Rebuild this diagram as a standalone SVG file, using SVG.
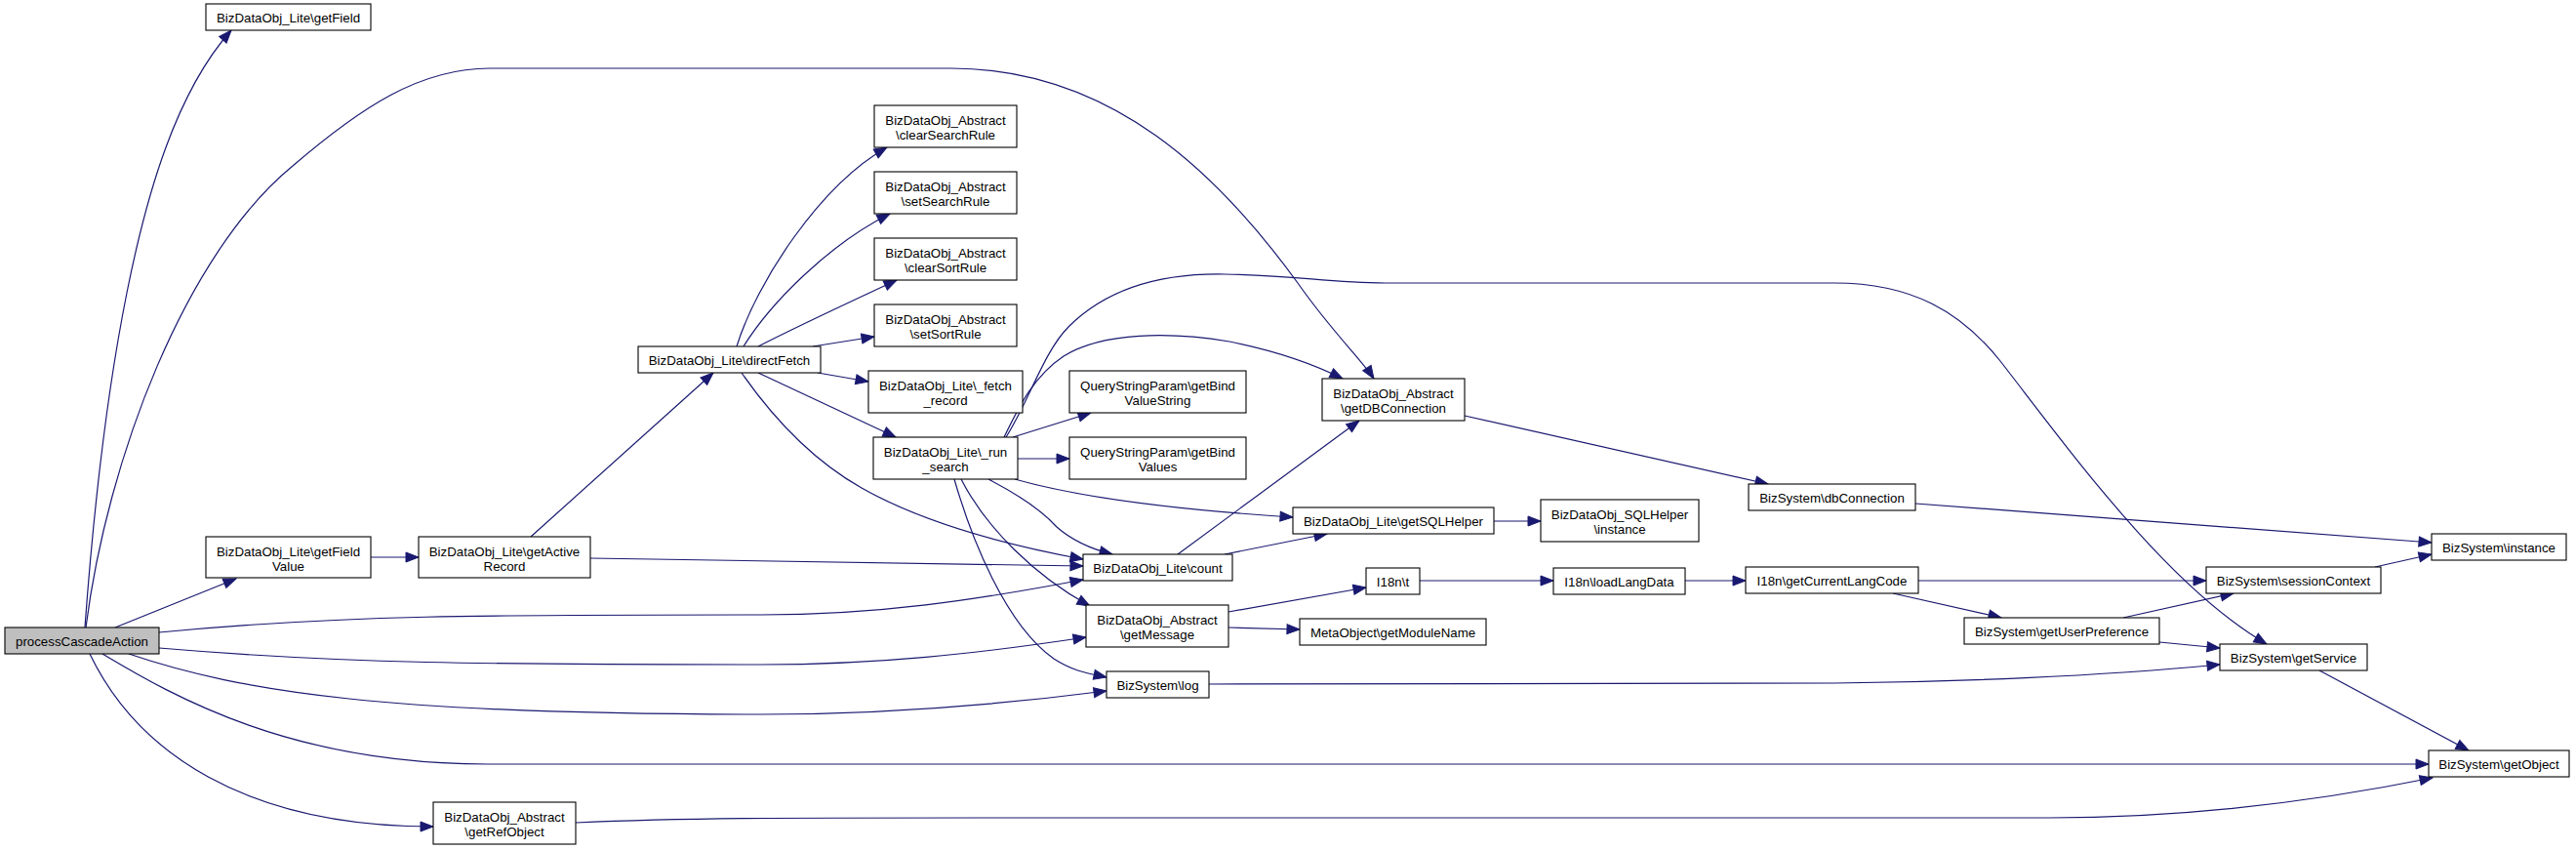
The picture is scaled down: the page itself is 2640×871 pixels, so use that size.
<svg xmlns="http://www.w3.org/2000/svg" width="2640" height="871" viewBox="0 0 2640 871">
<style>
.n rect{fill:#ffffff;stroke:#000000;stroke-width:1.1}
.n text{font-family:"Liberation Sans",Arial,Helvetica,sans-serif;font-size:13.3px;text-anchor:middle;fill:#000000}
#edges path{fill:none;stroke:#191970;stroke-width:1.2;marker-end:url(#arr)}
</style>
<defs>
<marker id="arr" markerUnits="userSpaceOnUse" markerWidth="15" markerHeight="12" refX="13" refY="5" orient="auto" overflow="visible">
<path d="M0,0 L13,5 L0,10 z" fill="#191970" stroke="#191970" stroke-width="1"/>
</marker>
</defs>
<rect x="0" y="0" width="2640" height="871" fill="#ffffff"/>
<g id="edges">
<path d="M87,643 C96,520 110,400 130,300 C150,200 180,95 237,31"/>
<path d="M88,643 C110,470 190,260 300,170 C370,110 430,70 502,70 L975,70 C1140,70 1250,180 1330,290 C1365,340 1395,368 1408,388"/>
<path d="M118,643 L242,593"/>
<path d="M163,648 C350,630 500,630 780,630 C900,630 1000,615 1110,594"/>
<path d="M163,664 C350,680 500,681 780,681 C900,681 1000,670 1113,653"/>
<path d="M132,670 C250,710 400,732 780,732 C900,732 1010,724 1134,708"/>
<path d="M105,670 C180,715 300,783 500,783 L2489,783"/>
<path d="M92,670 C140,770 250,847 444,847"/>
<path d="M380,571 L429,571"/>
<path d="M544,550 L731,382"/>
<path d="M605,572 L1110,580"/>
<path d="M755,355 C775,290 840,190 909,151"/>
<path d="M762,355 C790,310 850,250 912,219"/>
<path d="M777,355 C820,333 870,310 919,287"/>
<path d="M833,355 L896,345"/>
<path d="M838,382 L890,391"/>
<path d="M777,382 L918,448"/>
<path d="M760,382 C790,425 830,470 883,500 C950,538 1040,560 1110,573"/>
<path d="M1038,448 L1118,423"/>
<path d="M1043,470 L1096,470"/>
<path d="M1029,448 C1045,415 1060,385 1090,365 C1130,340 1200,340 1260,350 C1310,360 1350,375 1376,388"/>
<path d="M1031,448 C1055,410 1070,360 1095,335 C1140,290 1200,280 1255,281 C1330,282 1360,290 1420,290 L1880,290 C1960,290 2010,320 2050,370 C2120,460 2220,600 2323,660"/>
<path d="M1040,491 C1100,508 1200,522 1325,530"/>
<path d="M1013,491 C1040,505 1065,520 1083,540 C1100,555 1120,563 1140,568"/>
<path d="M985,491 C1010,540 1060,590 1117,621"/>
<path d="M978,491 C995,550 1030,640 1080,675 C1100,688 1115,690 1134,694"/>
<path d="M1207,568 L1393,431"/>
<path d="M1255,568 L1360,547"/>
<path d="M1531,534 L1579,534"/>
<path d="M1259,627 L1400,602"/>
<path d="M1259,643 L1332,645"/>
<path d="M1455,595 L1592,595"/>
<path d="M1727,595 L1789,595"/>
<path d="M1966,595 L2261,595"/>
<path d="M1940,608 L2051,633"/>
<path d="M2176,633 L2289,608"/>
<path d="M2213,658 L2275,664"/>
<path d="M2434,581 L2492,568"/>
<path d="M1963,516 L2492,556"/>
<path d="M1501,426 L1812,496"/>
<path d="M2377,687 L2530,769"/>
<path d="M1239,701 L1880,700 C2000,699 2150,693 2275,681"/>
<path d="M590,843 C700,838 800,838 1000,838 L2100,838 C2250,838 2380,820 2493,797"/>
</g>
<g id="processCascadeAction" class="n"><rect x="5" y="643" width="158" height="27" style="fill:#bfbfbf"/><text x="84" y="661.5">processCascadeAction</text></g>
<g id="getField" class="n"><rect x="211" y="4" width="169" height="27"/><text x="295.5" y="22.5">BizDataObj_Lite\getField</text></g>
<g id="getFieldValue" class="n"><rect x="211" y="550" width="169" height="42"/><text x="295.5" y="569.5">BizDataObj_Lite\getField</text><text x="295.5" y="585">Value</text></g>
<g id="getActiveRecord" class="n"><rect x="429" y="550" width="176" height="42"/><text x="517" y="569.5">BizDataObj_Lite\getActive</text><text x="517" y="585">Record</text></g>
<g id="directFetch" class="n"><rect x="654" y="355" width="187" height="27"/><text x="747.5" y="373.5">BizDataObj_Lite\directFetch</text></g>
<g id="clearSearchRule" class="n"><rect x="896" y="108" width="146" height="43"/><text x="969" y="127.5">BizDataObj_Abstract</text><text x="969" y="143">\clearSearchRule</text></g>
<g id="setSearchRule" class="n"><rect x="896" y="176" width="146" height="43"/><text x="969" y="195.5">BizDataObj_Abstract</text><text x="969" y="211">\setSearchRule</text></g>
<g id="clearSortRule" class="n"><rect x="896" y="244" width="146" height="43"/><text x="969" y="263.5">BizDataObj_Abstract</text><text x="969" y="279">\clearSortRule</text></g>
<g id="setSortRule" class="n"><rect x="896" y="312" width="146" height="43"/><text x="969" y="331.5">BizDataObj_Abstract</text><text x="969" y="347">\setSortRule</text></g>
<g id="fetchRecord" class="n"><rect x="890" y="380" width="158" height="43"/><text x="969" y="399.5">BizDataObj_Lite\_fetch</text><text x="969" y="415">_record</text></g>
<g id="runSearch" class="n"><rect x="895" y="448" width="148" height="43"/><text x="969" y="467.5">BizDataObj_Lite\_run</text><text x="969" y="483">_search</text></g>
<g id="getBindValueString" class="n"><rect x="1096" y="380" width="181" height="43"/><text x="1186.5" y="399.5">QueryStringParam\getBind</text><text x="1186.5" y="415">ValueString</text></g>
<g id="getBindValues" class="n"><rect x="1096" y="448" width="181" height="43"/><text x="1186.5" y="467.5">QueryStringParam\getBind</text><text x="1186.5" y="483">Values</text></g>
<g id="getDBConnection" class="n"><rect x="1355" y="388" width="146" height="43"/><text x="1428" y="407.5">BizDataObj_Abstract</text><text x="1428" y="423">\getDBConnection</text></g>
<g id="getSQLHelper" class="n"><rect x="1325" y="520" width="206" height="27"/><text x="1428" y="538.5">BizDataObj_Lite\getSQLHelper</text></g>
<g id="sqlHelperInstance" class="n"><rect x="1579" y="512" width="162" height="43"/><text x="1660" y="531.5">BizDataObj_SQLHelper</text><text x="1660" y="547">\instance</text></g>
<g id="count" class="n"><rect x="1110" y="568" width="153" height="27"/><text x="1186.5" y="586.5">BizDataObj_Lite\count</text></g>
<g id="getMessage" class="n"><rect x="1113" y="620" width="146" height="43"/><text x="1186" y="639.5">BizDataObj_Abstract</text><text x="1186" y="655">\getMessage</text></g>
<g id="getModuleName" class="n"><rect x="1332" y="634" width="191" height="27"/><text x="1427.5" y="652.5">MetaObject\getModuleName</text></g>
<g id="log" class="n"><rect x="1134" y="688" width="105" height="27"/><text x="1186.5" y="706.5">BizSystem\log</text></g>
<g id="i18nT" class="n"><rect x="1400" y="582" width="55" height="27"/><text x="1427.5" y="600.5">I18n\t</text></g>
<g id="loadLangData" class="n"><rect x="1592" y="582" width="135" height="27"/><text x="1659.5" y="600.5">I18n\loadLangData</text></g>
<g id="getCurrentLangCode" class="n"><rect x="1789" y="581" width="177" height="27"/><text x="1877.5" y="599.5">I18n\getCurrentLangCode</text></g>
<g id="dbConnection" class="n"><rect x="1792" y="496" width="171" height="27"/><text x="1877.5" y="514.5">BizSystem\dbConnection</text></g>
<g id="sessionContext" class="n"><rect x="2261" y="581" width="179" height="27"/><text x="2350.5" y="599.5">BizSystem\sessionContext</text></g>
<g id="getUserPreference" class="n"><rect x="2013" y="633" width="200" height="27"/><text x="2113" y="651.5">BizSystem\getUserPreference</text></g>
<g id="getService" class="n"><rect x="2275" y="660" width="151" height="27"/><text x="2350.5" y="678.5">BizSystem\getService</text></g>
<g id="instance" class="n"><rect x="2492" y="547" width="138" height="27"/><text x="2561" y="565.5">BizSystem\instance</text></g>
<g id="getObject" class="n"><rect x="2489" y="769" width="144" height="27"/><text x="2561" y="787.5">BizSystem\getObject</text></g>
<g id="getRefObject" class="n"><rect x="444" y="822" width="146" height="43"/><text x="517" y="841.5">BizDataObj_Abstract</text><text x="517" y="857">\getRefObject</text></g>
</svg>
